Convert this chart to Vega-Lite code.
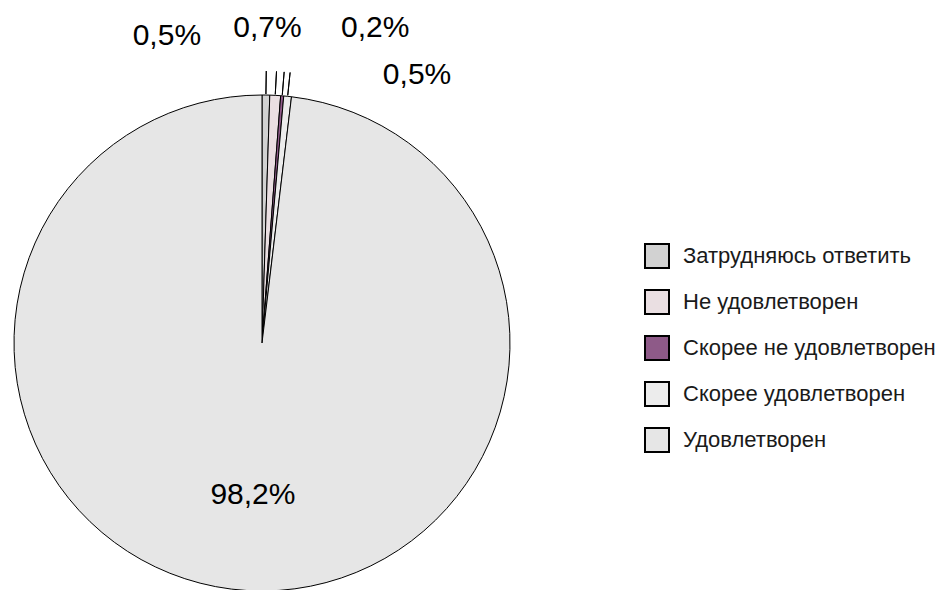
{
  "$schema": "https://vega.github.io/schema/vega-lite/v6.json",
  "width": 496,
  "height": 496,
  "autosize": {"type": "none"},
  "padding": {"left": 14, "top": 95, "right": 425, "bottom": 0},
  "background": "white",
  "config": {"view": {"stroke": null}, "font": "Liberation Sans"},
  "data": {
    "values": [
      {"category": "Затрудняюсь ответить", "value": 0.5, "label": "0,5%", "order": 1},
      {"category": "Не удовлетворен", "value": 0.7, "label": "0,7%", "order": 2},
      {"category": "Скорее не удовлетворен", "value": 0.2, "label": "0,2%", "order": 3},
      {"category": "Скорее удовлетворен", "value": 0.5, "label": "0,5%", "order": 4},
      {"category": "Удовлетворен", "value": 98.2, "label": "98,2%", "order": 5}
    ]
  },
  "transform": [
    {"stack": "value", "groupby": [], "sort": [{"field": "order", "order": "ascending"}], "as": ["v0", "v1"]},
    {"calculate": "(datum.v0 + datum.v1) / 2", "as": "mid"}
  ],
  "layer": [
    {
      "mark": {"type": "arc", "outerRadius": 248, "stroke": "black", "strokeWidth": 1},
      "encoding": {
        "theta": {"field": "v0", "type": "quantitative", "scale": {"domain": [0, 100.1]}},
        "theta2": {"field": "v1"},
        "color": {
          "field": "category",
          "type": "nominal",
          "scale": {
            "domain": ["Затрудняюсь ответить", "Не удовлетворен", "Скорее не удовлетворен", "Скорее удовлетворен", "Удовлетворен"],
            "range": ["#d2d2d2", "#eadfe2", "#8e5a88", "#ececec", "#e6e6e6"]
          },
          "legend": {
            "title": null,
            "orient": "none",
            "legendX": 630,
            "legendY": 148,
            "symbolType": "square",
            "symbolSize": 576,
            "symbolStrokeColor": "black",
            "symbolStrokeWidth": 2,
            "labelFont": "Liberation Sans",
            "labelFontSize": 22,
            "labelLimit": 400,
            "labelColor": "#1a1a1a",
            "labelOffset": 13,
            "rowPadding": 14
          }
        }
      }
    },
    {
      "transform": [{"filter": "datum.order < 5"}],
      "mark": {"type": "arc", "innerRadius": 249, "outerRadius": 272, "stroke": "black", "strokeWidth": 1, "fill": null},
      "encoding": {
        "theta": {"field": "mid", "type": "quantitative"},
        "theta2": {"field": "mid"}
      }
    },
    {
      "transform": [{"filter": "datum.order == 5"}],
      "mark": {"type": "text", "radius": 152, "fontSize": 30, "color": "black"},
      "encoding": {"theta": {"field": "mid", "type": "quantitative"}, "text": {"field": "label"}}
    },
    {
      "transform": [{"filter": "datum.order == 1"}],
      "mark": {"type": "text", "radius": 310, "dx": -100, "dy": 3, "fontSize": 30, "color": "black"},
      "encoding": {"theta": {"field": "mid", "type": "quantitative"}, "text": {"field": "label"}}
    },
    {
      "transform": [{"filter": "datum.order == 2"}],
      "mark": {"type": "text", "radius": 310, "dx": -11, "dy": -5, "fontSize": 30, "color": "black"},
      "encoding": {"theta": {"field": "mid", "type": "quantitative"}, "text": {"field": "label"}}
    },
    {
      "transform": [{"filter": "datum.order == 3"}],
      "mark": {"type": "text", "radius": 310, "dx": 88, "dy": -6, "fontSize": 30, "color": "black"},
      "encoding": {"theta": {"field": "mid", "type": "quantitative"}, "text": {"field": "label"}}
    },
    {
      "transform": [{"filter": "datum.order == 4"}],
      "mark": {"type": "text", "radius": 310, "dx": 123, "dy": 40, "fontSize": 30, "color": "black"},
      "encoding": {"theta": {"field": "mid", "type": "quantitative"}, "text": {"field": "label"}}
    }
  ]
}
